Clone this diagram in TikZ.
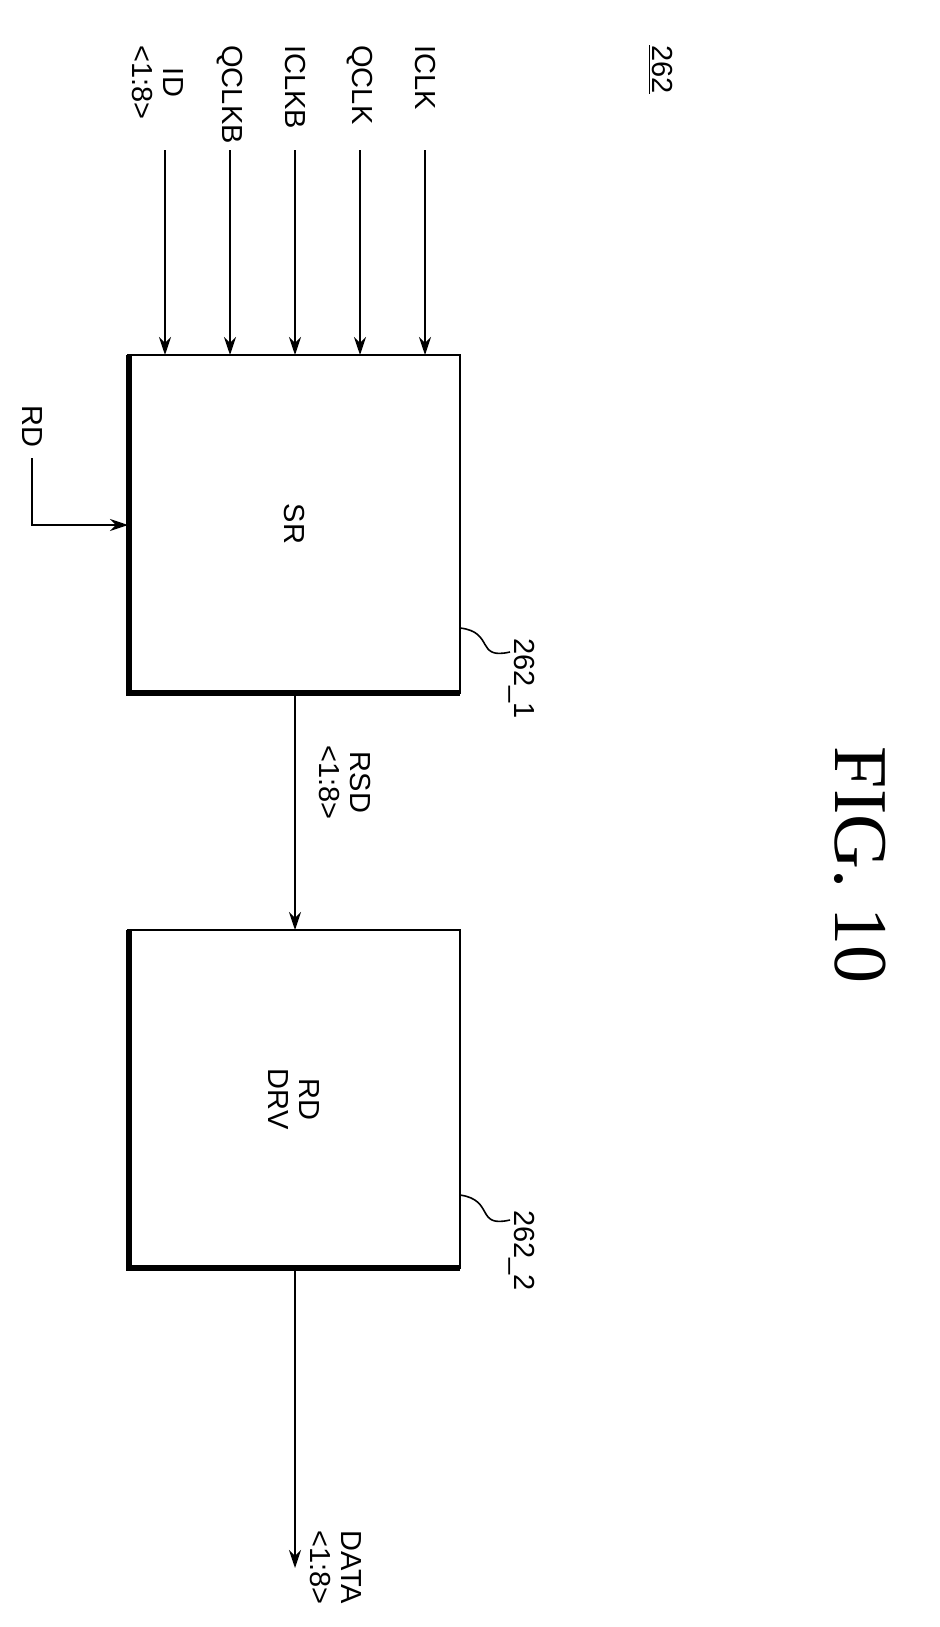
\documentclass[tikz,border=0pt]{standalone}
\usepackage{fontspec}
\setmainfont{Liberation Serif}
\setsansfont{Liberation Sans}
\usetikzlibrary{arrows.meta}
\begin{document}
\begin{tikzpicture}[x=0.5pt,y=-0.5pt,
  lbl/.style={rotate=-90,font=\sffamily\fontsize{14.5}{15.5}\selectfont,align=center,inner sep=0pt},
  wire/.style={line width=1.2pt,-{Stealth[length=9pt,width=6pt]}},
  box/.style={line width=1.2pt}]
\useasboundingbox (0,0) rectangle (939,1627);
% boxes
\draw[box] (128,355) rectangle (460,693);
\draw[line width=3pt] (129,355) -- (129,693) -- (460,693);
\draw[box] (128,930) rectangle (460,1268);
\draw[line width=3pt] (129,930) -- (129,1268) -- (460,1268);
\node[lbl] (sr) at (294,524) {SR};
\node[lbl] (drv) at (294,1099) {RD\\DRV};
% inputs
\node[lbl,anchor=west] (id) at (158,45) {ID\\<1:8>};
\node[lbl,anchor=west] (qb) at (230,45) {QCLKB};
\node[lbl,anchor=west] (ib) at (295,45) {ICLKB};
\node[lbl,anchor=west] (q) at (360,45) {QCLK};
\node[lbl,anchor=west] (i) at (425,45) {ICLK};
\coordinate (s1) at (165,150); \coordinate (e1) at (165,355);
\coordinate (s2) at (230,150); \coordinate (e2) at (230,355);
\coordinate (s3) at (295,150); \coordinate (e3) at (295,355);
\coordinate (s4) at (360,150); \coordinate (e4) at (360,355);
\coordinate (s5) at (425,150); \coordinate (e5) at (425,355);
\foreach \k in {1,...,5} \draw[wire] (s\k) -- (e\k);
% RD
\node[lbl,anchor=west] (rd) at (32,405) {RD};
\coordinate (rda) at (32,458); \coordinate (rdb) at (32,525); \coordinate (rdc) at (128,525);
\draw[wire] (rda) -- (rdb) -- (rdc);
% RSD
\coordinate (r1) at (295,693); \coordinate (r2) at (295,930);
\draw[wire] (r1) -- (r2);
\node[lbl,anchor=west] (rsd) at (345,745) {RSD\\<1:8>};
% DATA
\coordinate (d1) at (295,1268); \coordinate (d2) at (295,1568);
\draw[wire] (d1) -- (d2);
\node[lbl,anchor=west] (data) at (336,1530) {DATA\\<1:8>};
% refs
\node[lbl,anchor=west] (r261) at (522,638) {262\_1};
\draw[line width=0.8pt] (460,628) .. controls (495,632) and (475,660) .. (510,652);
\node[lbl,anchor=west] (r262) at (522,1210) {262\_2};
\draw[line width=0.8pt] (460,1195) .. controls (495,1200) and (475,1228) .. (510,1220);
\node[lbl,anchor=west] (r) at (660,45) {\underline{262}};
\node[rotate=-90,font=\fontsize{38}{40}\selectfont,inner sep=0pt] (fig) at (860,865) {FIG. 10};
\end{tikzpicture}
\end{document}
